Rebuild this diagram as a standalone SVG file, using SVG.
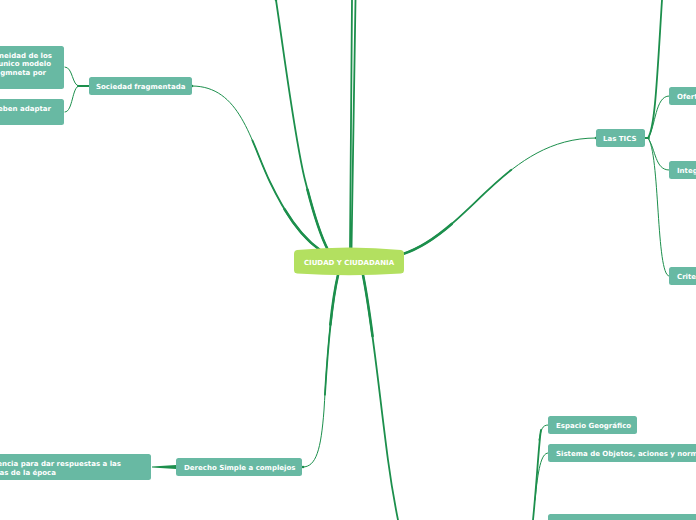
<svg xmlns="http://www.w3.org/2000/svg" width="696" height="520" viewBox="0 0 696 520">
<style>
.n{fill:#68b9a3}
.t{font-family:"DejaVu Sans",Verdana,sans-serif;font-size:7px;font-weight:bold;fill:#ffffff}
.c{fill:none;stroke:#1c8f4c;stroke-linecap:round}
.w1{stroke-width:1}
.w2{stroke-width:1.8}
.w3{stroke-width:2.6}
.e60{stroke-dasharray:0 40 60 0}
.e25{stroke-dasharray:0 75 25 0}
.s60{stroke-dasharray:60 40}
.s25{stroke-dasharray:25 75}
</style>
<rect width="696" height="520" fill="#ffffff"/>
<g id="connectors">
<path class="c w1" pathLength="100" d="M192,86 C240,86 250,140 270,182 C285,213 300,236 320,250"/>
<path class="c w2 e60" pathLength="100" d="M192,86 C240,86 250,140 270,182 C285,213 300,236 320,250"/>
<path class="c w3 e25" pathLength="100" d="M192,86 C240,86 250,140 270,182 C285,213 300,236 320,250"/>
<path class="c w2" d="M276,0 C285,60 295,140 305,180 C313,212 320,235 328,250"/>
<path class="c w3 e25" pathLength="100" d="M276,0 C285,60 295,140 305,180 C313,212 320,235 328,250"/>
<path class="c w2" d="M352,0 L350,249"/>
<path class="c w2" d="M355.5,0 L351.5,249"/>
<path class="c w1" pathLength="100" d="M403,254 C470,232 505,138 596,138"/>
<path class="c w2 s60" pathLength="100" d="M403,254 C470,232 505,138 596,138"/>
<path class="c w3 s25" pathLength="100" d="M403,254 C470,232 505,138 596,138"/>
<path class="c w1" pathLength="100" d="M338,275 C330,310 327,360 324,410 C321,450 316,467 303,467"/>
<path class="c w2 s60" pathLength="100" d="M338,275 C330,310 327,360 324,410 C321,450 316,467 303,467"/>
<path class="c w3 s25" pathLength="100" d="M338,275 C330,310 327,360 324,410 C321,450 316,467 303,467"/>
<path class="c w2" pathLength="100" d="M363,275 C372,320 380,400 388,460 C392,490 395,505 398,520"/>
<path class="c w3 s25" pathLength="100" d="M363,275 C372,320 380,400 388,460 C392,490 395,505 398,520"/>
<path class="c w2" d="M89,86 L78,86"/>
<path class="c w1" d="M79,86 C72,86 73,67 65,67"/>
<path class="c w1" d="M79,86 C72,86 73,112 65,112"/>
<path d="M152,466.6 L176,465 L176,469 L152,467.4 Z" fill="#1c8f4c"/>
<path class="c w2" d="M645,138 L649,138"/>
<path class="c w2" d="M648,138 C655,128 657,80 662,0"/>
<path class="c w1" d="M648,138 C656,126 655,96 669,96"/>
<path class="c w1" d="M648,138 C656,150 655,170 669,170"/>
<path class="c w1" d="M648,138 C660,152 656,276 669,276"/>
<path class="c w2" d="M533,520 C537,480 539,440 541,430"/>
<path class="c w1" d="M539,440 C541,430 542,425 548,425"/>
<path class="c w1" d="M535,500 C538,470 541,453 548,453"/>
</g>
<g id="center">
<path d="M297,250 Q349,245 401,250 Q404,250.5 404,254 L404,270 Q404,273 401,273.5 Q349,277 297,273.5 Q294,273 294,270 L294,254 Q294,250.5 297,250 Z" fill="#b3e060"/>
<text class="t" x="349" y="264.5" text-anchor="middle">CIUDAD Y CIUDADANIA</text>
</g>
<g id="sociedad">
<rect class="n" x="89" y="77" width="103" height="18" rx="2.5"/>
<text class="t" x="96" y="88.5">Sociedad fragmentada</text>
</g>
<g id="soc-child1">
<rect class="n" x="-5" y="46" width="69" height="43" rx="2.5"/>
<text class="t" x="52" y="57.5" text-anchor="end">neidad de los</text>
<text class="t" x="51" y="66" text-anchor="end">unico modelo</text>
<text class="t" x="46" y="74.5" text-anchor="end">gmneta por</text>
</g>
<g id="soc-child2">
<rect class="n" x="-5" y="99" width="69" height="26" rx="2.5"/>
<text class="t" x="51" y="110.5" text-anchor="end">eben adaptar</text>
</g>
<g id="tics">
<rect class="n" x="596" y="129" width="49" height="18" rx="2.5"/>
<text class="t" x="603" y="140.5">Las TICS</text>
</g>
<g id="ofert">
<rect class="n" x="669" y="87" width="40" height="18" rx="2.5"/>
<text class="t" x="677" y="98.5">Oferta</text>
</g>
<g id="integ">
<rect class="n" x="669" y="161" width="40" height="18" rx="2.5"/>
<text class="t" x="677" y="172.5">Integr</text>
</g>
<g id="crite">
<rect class="n" x="669" y="267" width="40" height="18" rx="2.5"/>
<text class="t" x="677" y="278.5">Criter</text>
</g>
<g id="derecho">
<rect class="n" x="176" y="458" width="126" height="18" rx="2.5"/>
<text class="t" x="184" y="469.5">Derecho Simple a complejos</text>
</g>
<g id="derecho-child">
<rect class="n" x="-5" y="454" width="156" height="26" rx="2.5"/>
<text class="t" x="121" y="466" text-anchor="end">encia para dar respuestas a las</text>
<text class="t" x="56" y="474.5" text-anchor="end">as de la época</text>
</g>
<g id="espacio">
<rect class="n" x="548" y="416" width="89" height="18" rx="2.5"/>
<text class="t" x="556" y="427.5">Espacio Geográfico</text>
</g>
<g id="sistema">
<rect class="n" x="548" y="444" width="160" height="18" rx="2.5"/>
<text class="t" x="556" y="455.5">Sistema de Objetos, aciones y normas</text>
</g>
<g id="third">
<rect class="n" x="548" y="514" width="160" height="18" rx="2.5"/>
</g>
</svg>
